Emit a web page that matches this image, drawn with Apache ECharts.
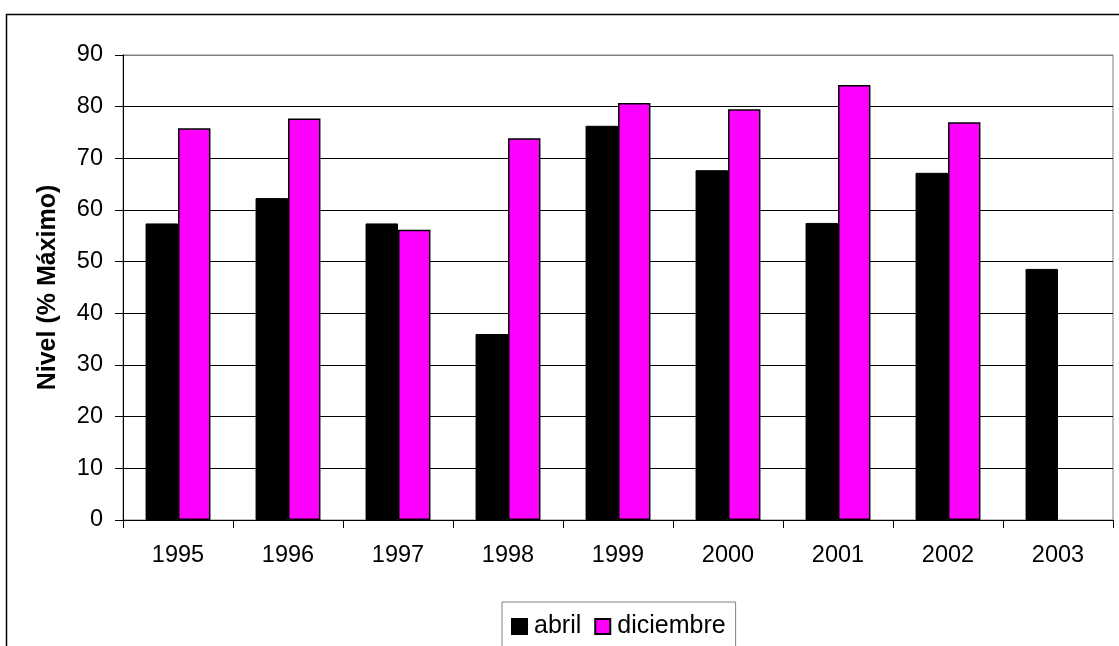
<!DOCTYPE html>
<html>
<head>
<meta charset="utf-8">
<script src="https://cdn.jsdelivr.net/npm/echarts@6/dist/echarts.min.js"></script>
<style>
  html, body { margin: 0; padding: 0; background: #fff; }
  #chart { width: 1119px; height: 646px; }
</style>
</head>
<body>
<div id="chart"></div>
<script>
// Reservoir level, % of maximum, per year
const years = ['1995', '1996', '1997', '1998', '1999', '2000', '2001', '2002', '2003'];
const abril = [57.4, 62.3, 57.4, 36.0, 76.3, 67.7, 57.5, 67.2, 48.6];
const diciembre = [75.8, 77.7, 56.2, 73.9, 80.7, 79.5, 84.2, 77.0, null];
const yTicks = { min: 0, max: 90, interval: 10 };

const FONT = '"Liberation Sans", Arial, sans-serif';

const chart = echarts.init(document.getElementById('chart'), null, { renderer: 'canvas' });

// top gridline is the gray plot border, the others are black
const splitColors = [];
for (let v = yTicks.min; v <= yTicks.max; v += yTicks.interval) {
  splitColors.push(v === yTicks.max ? '#808080' : '#000');
}

chart.setOption({
  animation: false,
  backgroundColor: '#fff',
  textStyle: { fontFamily: FONT },
  grid: { left: 123, right: 6, top: 55, bottom: 126, show: true, borderColor: '#808080', borderWidth: 1 },
  legend: {
    left: 502,
    top: 602,
    selectedMode: false,
    icon: 'rect',
    itemWidth: 15,
    itemHeight: 15,
    itemGap: 13,
    borderColor: '#808080',
    borderWidth: 1,
    padding: [12, 10, 20, 9],
    textStyle: { fontFamily: FONT, fontSize: 25, color: '#000', padding: [0, 0, 0, 2] },
    data: ['abril', 'diciembre']
  },
  xAxis: {
    type: 'category',
    data: years,
    axisLine: { lineStyle: { color: '#000', width: 1 } },
    axisTick: { show: true, length: 8, lineStyle: { color: '#000' } },
    axisLabel: { color: '#000', fontSize: 23.5, fontFamily: FONT, margin: 24 },
    splitLine: { show: false }
  },
  yAxis: {
    type: 'value',
    min: yTicks.min,
    max: yTicks.max,
    interval: yTicks.interval,
    axisLine: { show: true, lineStyle: { color: '#000', width: 1 } },
    axisTick: { show: true, length: 8, lineStyle: { color: '#000' } },
    axisLabel: { color: '#000', fontSize: 23.5, fontFamily: FONT, margin: 20 },
    splitLine: { show: true, lineStyle: { color: splitColors, width: 1 } }
  },
  series: [
    {
      name: 'abril',
      type: 'bar',
      data: abril,
      barWidth: '29.5%',
      barGap: '0%',
      itemStyle: { color: '#000000', borderColor: '#000', borderWidth: 1 }
    },
    {
      name: 'diciembre',
      type: 'bar',
      data: diciembre,
      barWidth: '29.5%',
      barGap: '0%',
      itemStyle: { color: '#FF00FF', borderColor: '#000', borderWidth: 1.5 }
    }
  ],
  graphic: [
    {
      type: 'rect',
      silent: true,
      shape: { x: 6.5, y: 14.5, width: 1300, height: 800 },
      style: { fill: null, stroke: '#000', lineWidth: 1.5 },
      z: 100
    },
    {
      type: 'text',
      silent: true,
      x: 48,
      y: 287.5,
      rotation: Math.PI / 2,
      style: {
        text: 'Nivel (% Máximo)',
        fontFamily: FONT,
        fontWeight: 'bold',
        fontSize: 25,
        fill: '#000',
        align: 'center',
        verticalAlign: 'middle'
      }
    }
  ]
});
</script>
</body>
</html>
